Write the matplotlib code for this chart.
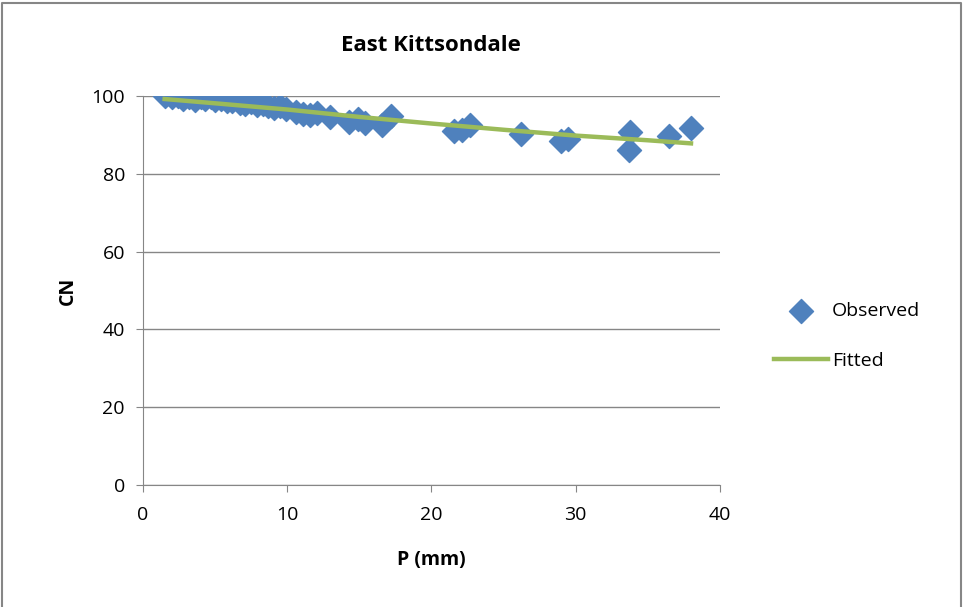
import matplotlib.pyplot as plt
from matplotlib.lines import Line2D

# observed CN vs rainfall depth
p_obs = [1.5, 2.0, 2.4, 2.8, 3.2, 3.6, 4.0, 4.3, 4.7, 5.0, 5.4, 5.8, 6.2, 6.7,
         7.1, 7.5, 7.9, 8.3, 8.7, 9.1, 9.5, 9.9, 10.6, 11.1, 11.6, 12.1, 13.0,
         14.3, 14.9, 15.4, 16.6, 17.2, 21.6, 22.1, 22.7, 26.2, 29.0, 29.5,
         33.7, 33.8, 36.5, 38.0]
cn_obs = [100.0, 99.6, 99.9, 99.3, 99.6, 99.0, 99.7, 99.2, 99.8, 98.9, 99.2,
          98.6, 98.8, 98.2, 97.8, 98.4, 97.6, 97.9, 97.3, 96.9, 97.4, 96.6,
          95.9, 95.3, 95.0, 95.7, 94.7, 93.3, 94.0, 93.0, 92.6, 94.8, 91.0,
          91.2, 92.6, 90.1, 88.3, 89.0, 86.2, 90.6, 89.8, 91.8]

# fitted curve
p_fit = [1.5, 5, 10, 15, 20, 25, 30, 35, 38]
cn_fit = [99.2, 98.1, 96.5, 94.6, 92.9, 91.3, 89.8, 88.6, 87.8]

plt.rcParams['font.family'] = ['Open Sans', 'DejaVu Sans']

fig = plt.figure(figsize=(9.63, 6.07), dpi=100)
ax = fig.add_axes([0.1485, 0.201, 0.599, 0.641])

ax.plot(p_fit, cn_fit, color='#9BBB59', linewidth=3.2, label='Fitted', zorder=3)
ax.scatter(p_obs, cn_obs, marker='D', s=150, color='#4F81BD', label='Observed', zorder=2)

ax.set_xlim(0, 40)
ax.set_ylim(0, 100)
ax.set_xticks([0, 10, 20, 30, 40])
ax.set_yticks([0, 20, 40, 60, 80, 100])
ax.grid(axis='y', color='#868686', linewidth=1)
ax.set_axisbelow(True)
for s in ['top', 'right']:
    ax.spines[s].set_visible(False)
for s in ['left', 'bottom']:
    ax.spines[s].set_color('#868686')
ax.tick_params(axis='both', labelsize=14, color='#868686', length=5)
ax.tick_params(axis='x', pad=10)
ax.tick_params(axis='y', pad=8)

ax.set_title('East Kittsondale', fontsize=16, fontweight='bold', pad=32)
ax.set_xlabel('P (mm)', fontsize=14, fontweight='bold', labelpad=19)
ax.set_ylabel('CN', fontsize=14, fontweight='bold', labelpad=10)

handles, labels = ax.get_legend_handles_labels()
ax.legend(handles[::-1], labels[::-1], loc='center left', bbox_to_anchor=(1.063, 0.383),
          frameon=False, fontsize=14, handlelength=2.8, labelspacing=1.6,
          handletextpad=0.2)

# outer chart border
fig.add_artist(Line2D([0.002, 0.002, 0.998, 0.998], [0, 0.995, 0.995, 0],
                      transform=fig.transFigure, color='#868686', linewidth=1.5))

plt.savefig('out.png', dpi=100)
